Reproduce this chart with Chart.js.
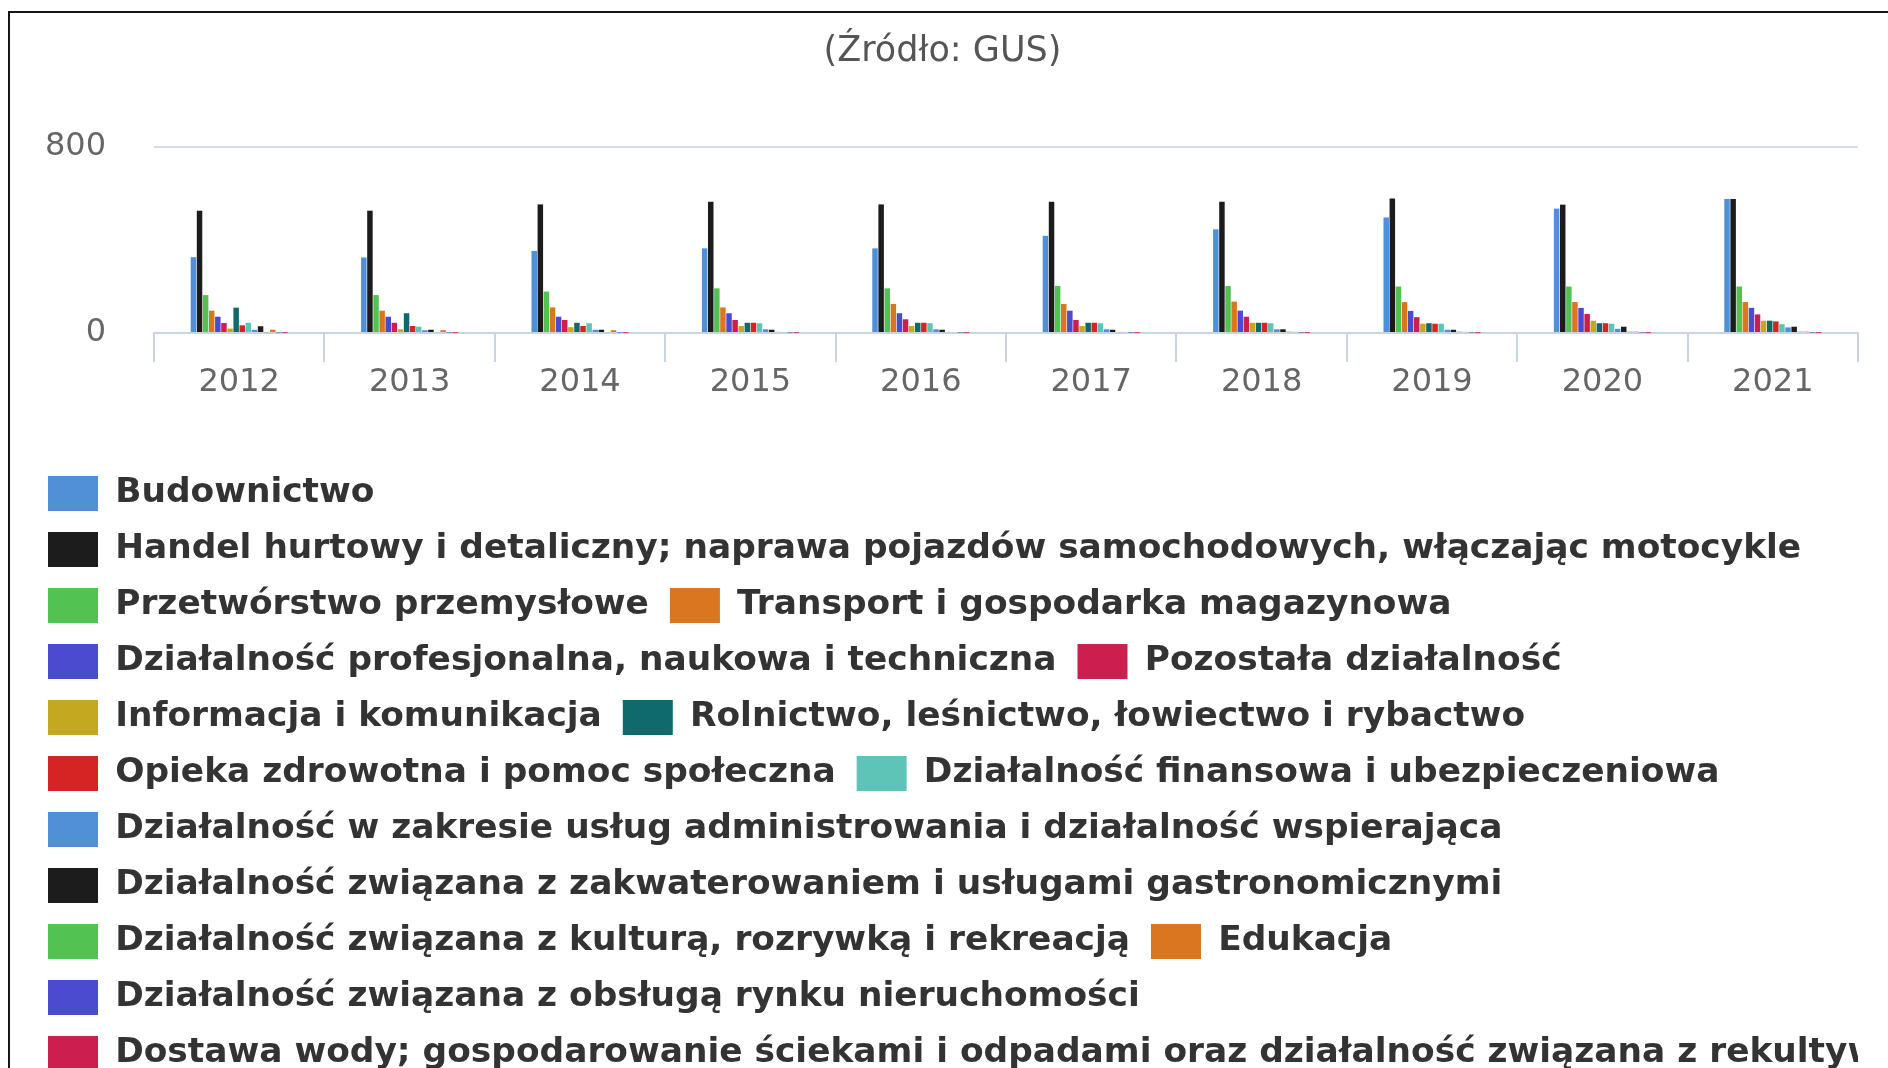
<!DOCTYPE html>
<html lang="pl">
<head>
<meta charset="utf-8">
<title>Źródło: GUS</title>
<script src="https://cdn.jsdelivr.net/npm/chart.js@4.4.1/dist/chart.umd.min.js"></script>
<style>
    html, body {
        margin: 0;
        padding: 0;
        background: #ffffff;
        overflow: hidden;
    }
    #wrap {
        position: relative;
        width: 1888px;
        height: 1068px;
    }
    #ramka {
        position: absolute;
        left: 8px;
        top: 11px;
        width: 3000px;
        height: 3000px;
        border: 2px solid #151515;
        pointer-events: none;
    }
</style>
</head>
<body>
<div id="wrap">
    <canvas id="gusChart" width="1888" height="1068"></canvas>
    <div id="ramka"></div>
</div>
<script>

// ==========================
// DANE
// ==========================

const lata = ["2012", "2013", "2014", "2015", "2016", "2017", "2018", "2019", "2020", "2021"];

const osY = [0, 800];

const budownictwo     = [326, 325, 353, 364, 364, 418, 446, 497, 535, 576];
const handel          = [526, 526, 553, 565, 553, 565, 565, 578, 552, 576];
const przetworstwo    = [163, 163, 178, 192, 192, 202, 202, 200, 200, 200];
const transport       = [96, 96, 110, 110, 125, 125, 135, 133, 133, 133];
const profesjonalna   = [70, 70, 70, 85, 85, 96, 96, 95, 108, 108];
const pozostala       = [43, 44, 56, 56, 59, 56, 70, 68, 82, 80];
const informacja      = [19, 16, 25, 30, 30, 30, 44, 40, 53, 53];
const rolnictwo       = [109, 85, 44, 44, 44, 44, 44, 42, 42, 53];
const opieka          = [33, 30, 30, 44, 44, 44, 44, 40, 42, 50];
const finansowa       = [44, 27, 42, 42, 42, 42, 42, 40, 40, 38];
const administrowanie = [14, 12, 14, 16, 16, 16, 16, 14, 18, 24];
const zakwaterowanie  = [29, 14, 14, 14, 14, 14, 16, 14, 27, 27];
const kultura         = [3, 4, 4, 5, 5, 5, 6, 6, 6, 6];
const edukacja        = [14, 12, 12, 4, 4, 4, 5, 5, 6, 6];
const nieruchomosci   = [2, 2, 2, 2, 2, 2, 2, 2, 2, 2];
const dostawaWody     = [1, 1, 1, 1, 1, 1, 1, 1, 1, 1];

const nazwy = [
    "Budownictwo",
    "Handel hurtowy i detaliczny; naprawa pojazdów samochodowych, włączając motocykle",
    "Przetwórstwo przemysłowe",
    "Transport i gospodarka magazynowa",
    "Działalność profesjonalna, naukowa i techniczna",
    "Pozostała działalność",
    "Informacja i komunikacja",
    "Rolnictwo, leśnictwo, łowiectwo i rybactwo",
    "Opieka zdrowotna i pomoc społeczna",
    "Działalność finansowa i ubezpieczeniowa",
    "Działalność w zakresie usług administrowania i działalność wspierająca",
    "Działalność związana z zakwaterowaniem i usługami gastronomicznymi",
    "Działalność związana z kulturą, rozrywką i rekreacją",
    "Edukacja",
    "Działalność związana z obsługą rynku nieruchomości",
    "Dostawa wody; gospodarowanie ściekami i odpadami oraz działalność związana z rekultywacją"
];

const wartosci = [
    budownictwo, handel, przetworstwo, transport,
    profesjonalna, pozostala, informacja, rolnictwo,
    opieka, finansowa, administrowanie, zakwaterowanie,
    kultura, edukacja, nieruchomosci, dostawaWody
];

const kolory = [
    "#5190d6", "#1c1c1c", "#52c252", "#d9761f",
    "#4b4bcf", "#cc1f4f", "#c4a920", "#0f6b6b",
    "#d42424", "#5ec4b8", "#5190d6", "#1c1c1c",
    "#52c252", "#d9761f", "#4b4bcf", "#cc1f4f"
];


// ==========================
// WYKRES
// ==========================

Chart.defaults.font.family = "'DejaVu Sans', Verdana, sans-serif";

const canvas = document.getElementById("gusChart");

new Chart(canvas, {

    type: "bar",

    data: {

        labels: lata,

        datasets: nazwy.map((nazwa, i) => ({
            label: nazwa,
            data: wartosci[i],
            backgroundColor: kolory[i],
            borderWidth: 0,
            categoryPercentage: 0.573,
            barPercentage: 0.9
        }))

    },

    options: {

        responsive: false,
        animation: false,
        devicePixelRatio: 1,

        layout: {
            padding: { top: 0, left: 27, right: 30, bottom: 0 }
        },

        plugins: {

            title: {
                display: true,
                text: "(Źródło: GUS)",
                color: "#555555",
                font: { size: 35, weight: "normal" },
                padding: { top: 31, bottom: 74 }
            },

            legend: {
                position: "bottom",
                align: "start",
                maxHeight: 613,
                labels: {
                    color: "#333333",
                    font: { size: 34.4, weight: "bold" },
                    boxWidth: 50,
                    boxHeight: 35,
                    padding: 21
                }
            },

            tooltip: { enabled: false }

        },

        scales: {

            x: {
                afterFit: (scale) => { scale.height = 122; },
                grid: {
                    drawOnChartArea: false,
                    drawTicks: true,
                    tickLength: 29,
                    color: "#c9d4df",
                    lineWidth: 2
                },
                border: {
                    display: true,
                    color: "#c9d4df",
                    width: 2
                },
                ticks: {
                    color: "#666666",
                    font: { size: 32 },
                    padding: 1,
                    autoSkip: false,
                    maxRotation: 0
                }
            },

            y: {
                min: osY[0],
                max: osY[osY.length - 1],
                afterFit: (scale) => { scale.width = 127; },
                afterBuildTicks: (scale) => {
                    scale.ticks = osY.map(v => ({ value: v }));
                },
                grid: {
                    drawTicks: false,
                    color: (ctx) => ctx.tick && ctx.tick.value === 0 ? "rgba(0,0,0,0)" : "#d6dce4",
                    lineWidth: 2
                },
                border: { display: false },
                ticks: {
                    color: "#666666",
                    font: { size: 32 },
                    padding: 48
                }
            }

        }

    }

});

</script>
</body>
</html>
